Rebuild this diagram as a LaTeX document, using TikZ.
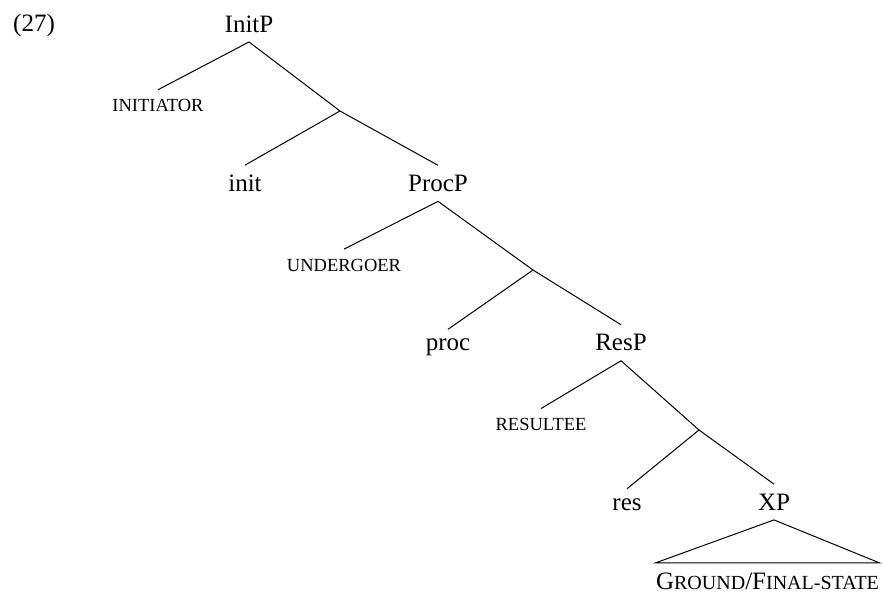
\documentclass[tikz,border=0pt]{standalone}
\usepackage{fontspec}
\setmainfont{Liberation Serif}
\newcommand{\rolesc}[1]{{\fontsize{18.5}{20}\selectfont #1}}
\newcommand{\groundsc}[1]{{\fontsize{20}{22}\selectfont #1}}

\begin{document}
\begin{tikzpicture}[x=1pt, y=-1pt, every node/.style={anchor=base, inner xsep=0pt, inner ysep=9.5pt, font=\fontsize{25}{30}\selectfont}, branch/.style={line width=1pt}]
  \useasboundingbox (0,0) rectangle (883,595);
  \node[anchor=base west] (exnum) at (13, 31.5) {(27)};
  \node (initp)     at (249, 32)    {InitP};
  \node (initiator) at (158, 111.7) {\rolesc{INITIATOR}};
  \coordinate (init_bar) at (340, 111);
  \node (init)      at (245, 191.4) {init};
  \node (procp)     at (438, 191.4) {ProcP};
  \node (undergoer) at (344, 271.1) {\rolesc{UNDERGOER}};
  \coordinate (proc_bar) at (533, 270);
  \node (proc)      at (448, 350.8) {proc};
  \node (resp)      at (621, 350.8) {ResP};
  \node (resultee)  at (541, 430.5) {\rolesc{RESULTEE}};
  \coordinate (res_bar) at (699, 430);
  \node (res)       at (627, 510.2) {res};
  \node (xp)        at (774, 510.2) {XP};
  \node (ground)    at (767.5, 589) {G\groundsc{ROUND}/F\groundsc{INAL-STATE}};

  \draw[branch] (initp.south) -- (initiator.north);
  \draw[branch] (initp.south) -- (init_bar);
  \draw[branch] (init_bar) -- (init.north);
  \draw[branch] (init_bar) -- (procp.north);
  \draw[branch] (procp.south) -- (undergoer.north);
  \draw[branch] (procp.south) -- (proc_bar);
  \draw[branch] (proc_bar) -- (proc.north);
  \draw[branch] (proc_bar) -- (resp.north);
  \draw[branch] (resp.south) -- (resultee.north);
  \draw[branch] (resp.south) -- (res_bar);
  \draw[branch] (res_bar) -- (res.north);
  \draw[branch] (res_bar) -- (xp.north);
  \draw[branch] (xp.south) -- (ground.north east) -- (ground.north west) -- cycle;
\end{tikzpicture}
\end{document}
